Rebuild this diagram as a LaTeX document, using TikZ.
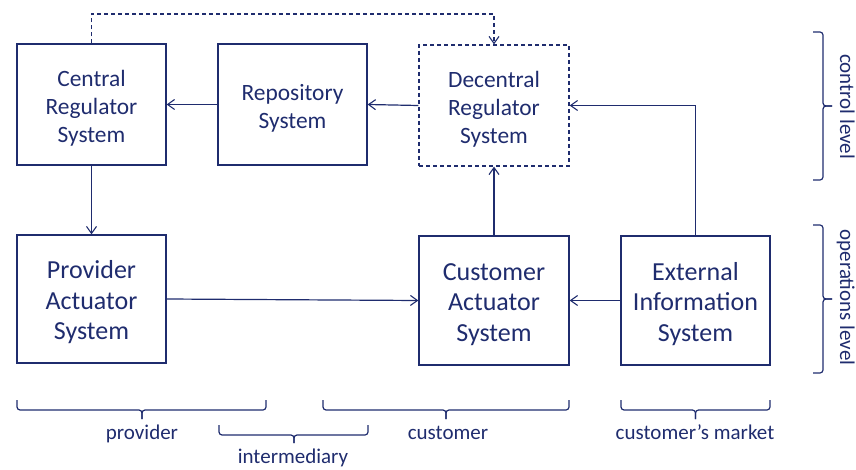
\documentclass[tikz,border=0pt]{standalone}
\usepackage{fontspec}
\setmainfont{Carlito}
\usetikzlibrary{arrows.meta}
\definecolor{navy}{HTML}{1F2C6E}
% invisible strut on the first line pushes the text block a little lower
\newcommand\padtop[1]{\rule{0pt}{#1}}
\begin{document}
\begin{tikzpicture}[x=1pt,y=-1pt,
  sysbox/.style={draw=navy, line width=1.3pt, text=navy, align=center, inner sep=0pt},
  upper/.style={sysbox, minimum width=149pt, minimum height=121pt,
    font=\fontsize{23.4}{28.3}\selectfont},
  lower/.style={sysbox, minimum width=149pt, minimum height=129pt,
    font=\fontsize{26}{30.5}\selectfont},
  link/.style={draw=navy, line width=1.2pt,
    -{Straight Barb[length=7pt,width=10pt,line width=1.1pt]}},
  dashline/.style={dash pattern=on 4pt off 3pt},
  brace/.style={draw=navy, line width=1.2pt, rounded corners=3pt},
  lbl/.style={text=navy, font=\fontsize{21}{25}\selectfont, inner sep=0pt}
]
\useasboundingbox (0,0) rectangle (856,470);

% control level
\node[upper] (central) at (91.5,104.5) {\padtop{24pt}Central\\Regulator\\System};
\node[upper] (repo) at (292.5,104.5) {\padtop{24pt}Repository\\System};
\node[upper, dashline, minimum width=150pt] (dec) at (494,105.5) {\padtop{24pt}Decentral\\Regulator\\System};

% operations level
\node[lower, minimum height=128pt] (prov) at (91.5,299) {\padtop{25pt}Provider\\Actuator\\System};
\node[lower, minimum width=150pt] (cust) at (494,300.5) {\padtop{25pt}Customer\\Actuator\\System};
\node[lower] (ext) at (695.5,300.5) {\padtop{25pt}External\\Information\\System};

% connectors
\coordinate (toprail) at (0,14);
\draw[link, dashline] (central.north) -- (central.north |- toprail) -| (dec.north);
\draw[link] (repo.west) -- (central.east);
\draw[link] (dec.west) -- (repo.east);
\draw[link] (ext.north) |- (dec.east);
\draw[link] (cust.north) -- (dec.south);
\draw[link] (central.south) -- (prov.north);
\draw[link] (prov.east) -- (cust.west);
\draw[link] (ext.west) -- (cust.east);

% braces for the two levels
\draw[brace] (813,32) -| (823,106) -- (832,106);
\draw[brace] (813,180) -| (823,106) -- (832,106);
\draw[brace] (813,225) -| (823,299) -- (832,299);
\draw[brace] (813,373) -| (823,299) -- (832,299);
\node[lbl, rotate=-90, anchor=base] (lctrl) at (840,106.5) {control level};
\node[lbl, rotate=-90, anchor=base] (lops) at (840,297.5) {operations level};

% braces for the parties
\draw[brace] (17,400) |- (142,410) -- (142,419);
\draw[brace] (266,400) |- (142,410) -- (142,419);
\node[lbl, anchor=base] (lprov) at (142,439) {provider};

\draw[brace] (219,425) |- (294,435) -- (294,443);
\draw[brace] (368,425) |- (294,435) -- (294,443);
\node[lbl, anchor=base] (linter) at (293,463) {intermediary};

\draw[brace] (323,400) |- (446,410) -- (446,419);
\draw[brace] (569,400) |- (446,410) -- (446,419);
\node[lbl, anchor=base] (lcust) at (448,439) {customer};

\draw[brace] (621,400) |- (695.5,410) -- (695.5,419);
\draw[brace] (770,400) |- (695.5,410) -- (695.5,419);
\node[lbl, anchor=base] (lmarket) at (695,439) {customer’s market};
\end{tikzpicture}
\end{document}
